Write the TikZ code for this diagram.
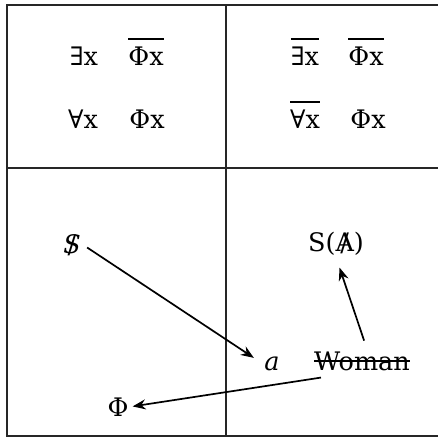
\documentclass[tikz,border=0pt]{standalone}
\usepackage{fontspec}
\setmainfont{DejaVu Serif}
\usetikzlibrary{arrows.meta}
% bar over a formula, slash through a letter, line through a word
\newcommand{\negate}[1]{\sbox0{#1}\rlap{\usebox0}\rule[0.98em]{\wd0}{0.09em}}
\newcommand{\barred}[1]{\ooalign{#1\cr\hidewidth/\hidewidth\cr}}
\newcommand{\crossout}[1]{\sbox0{#1}\rlap{\usebox0}\rule[0.32em]{\wd0}{0.07em}}

\begin{document}
\begin{tikzpicture}[x=1pt,y=-1pt,
  every node/.style={font=\fontsize{25.5}{30}\selectfont,inner sep=2pt},
  formula/.style={anchor=base},
  grid line/.style={draw=black!85,line width=2.2pt},
  pointer/.style={->,>={Stealth[length=13pt,width=10pt]},line width=1.7pt}]
  \useasboundingbox (0,0) rectangle (438,437);
  % the four cells
  \draw[grid line] (7,5) rectangle (446,436);
  \draw[grid line] (226,5) -- (226,436);
  \draw[grid line] (7,168) -- (446,168);
  % formulas, top row
  \node[formula] (exists)    at (84,65)   {∃x};
  \node[formula] (phinot)    at (146,65)  {\negate{Φx}};
  \node[formula] (forall)    at (83,128)  {∀x};
  \node[formula] (phi)       at (147,128) {Φx};
  \node[formula] (existsnot) at (305,65)  {\negate{∃x}};
  \node[formula] (phinotr)   at (366,65)  {\negate{Φx}};
  \node[formula] (forallnot) at (305,128) {\negate{∀x}};
  \node[formula] (phir)      at (368,128) {Φx};
  % bottom row
  \node[formula] (subject)   at (72,253)  {\barred{\textit{S}}};
  \node[formula] (signifier) at (336,251) {S(\barred{A})};
  \node[formula] (objecta)   at (272,370) {\textit{a}};
  \node[formula] (woman)     at (362,370) {\crossout{Woman}};
  \node[formula] (phallus)   at (118,416) {Φ};
  \draw[pointer,shorten <=5pt,shorten >=10pt] (subject.east) -- (objecta.west);
  \draw[pointer,shorten <=9pt,shorten >=11pt] ([xshift=5pt]woman.north) -- (signifier.south);
  \draw[pointer,shorten >=2pt] ([xshift=9pt,yshift=-5pt]woman.south west) -- (phallus.east);
\end{tikzpicture}
\end{document}
